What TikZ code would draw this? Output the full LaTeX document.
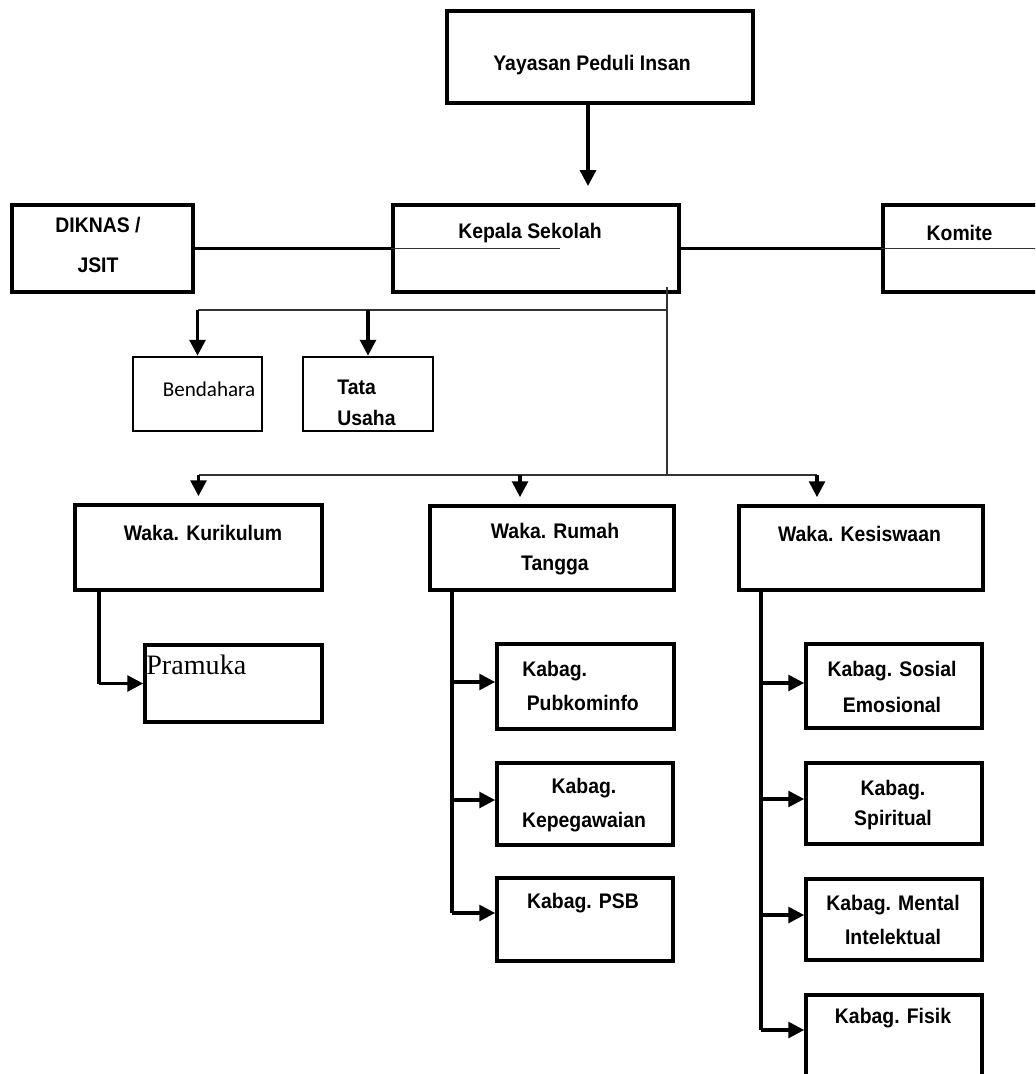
\documentclass[tikz,border=0pt]{standalone}
\usepackage{fontspec}
\newfontfamily\narrowfont{Liberation Sans}[FakeStretch=0.92]
\newfontfamily\carlitofont{Carlito}
\newfontfamily\seriffont{Liberation Serif}
\usetikzlibrary{arrows.meta,positioning}

\begin{document}
\begin{tikzpicture}
		[x=0.02cm, y=-0.02cm,
		boxsty/.style 2 args={draw, line width=2.1pt, inner sep=0pt,
			minimum width=#1*0.02cm, minimum height=#2*0.02cm},
		txtsty/.style={font=\narrowfont\bfseries\fontsize{12}{19}\selectfont,
			align=center, inner sep=0pt},
		arrsty/.style={-{Triangle[length=9pt,width=9pt]}, line width=1.8pt},
		brsty/.style={line width=2pt},
		linsty/.style={line width=1pt, black!80}]
		\useasboundingbox (0,0) rectangle (1035,1074);
		\clip (0,0) rectangle (1035,1074);
		
		\node (box yayasan)   at (600,57)    [boxsty={306}{92}] {};
		\node (box kepala)    at (536,248.5) [boxsty={286}{87}] {};
		\node (box diknas)    at (102.5,248.5) [boxsty={181}{87}] {};
		\node (box komite)    at (983,248.5) [boxsty={200}{87}] {};
		\node (box bendahara) at (197.5,394) [boxsty={129}{74}, line width=1.5pt] {};
		\node (box tatausaha) at (368,394)   [boxsty={130}{74}, line width=1.5pt] {};
		\node (box kurikulum) at (198.5,547.5) [boxsty={247}{85}] {};
		\node (box rumah)     at (552,548)   [boxsty={244}{84}] {};
		\node (box kesiswaan) at (861,548)   [boxsty={244}{84}] {};
		\node (box pramuka)   at (233.5,683.5) [boxsty={177}{77}] {};
		\node (box pubkominfo)  at (585.5,686.5) [boxsty={177}{85}] {};
		\node (box kepegawaian) at (585,804)   [boxsty={176}{82}] {};
		\node (box psb)         at (585,919.5) [boxsty={176}{83}] {};
		\node (box sosial)    at (894,686)    [boxsty={176}{84}] {};
		\node (box spiritual) at (894,803.5)  [boxsty={176}{81}] {};
		\node (box mental)    at (894,919.5)  [boxsty={176}{81}] {};
		\node (box fisik)     at (894,1050)   [boxsty={176}{110}] {};
		
		\node (text yayasan)   at (592,65)   [txtsty] {Yayasan Peduli Insan};
		\node (text kepala)    at (530,233)  [txtsty] {Kepala Sekolah};
		\node (text diknas)    at (98,245)   [txtsty, font=\narrowfont\bfseries\fontsize{12}{23}\selectfont] {DIKNAS /\\JSIT};
		\node (text komite)    at (959.5,233) [txtsty] {Komite};
		\node (text bendahara) at (209,389)  [inner sep=0pt, font=\carlitofont\fontsize{12}{14}\selectfont] {Bendahara};
		\node (text tatausaha) at (337,402.5) [txtsty, anchor=west, align=left, font=\narrowfont\bfseries\fontsize{12}{17.6}\selectfont] {Tata\\Usaha};
		\node (text kurikulum) at (203,533)  [txtsty] {Waka. Kurikulum};
		\node (text rumah)     at (555,549)  [txtsty, font=\narrowfont\bfseries\fontsize{12}{18}\selectfont] {Waka. Rumah\\Tangga};
		\node (text kesiswaan) at (859.5,534) [txtsty] {Waka. Kesiswaan};
		\node (text pramuka)   at (146,674)  [anchor=base west, inner sep=0pt, font=\seriffont\fontsize{16}{18}\selectfont] {Pramuka};
		\node (text pubkominfo)  at (522,686) [txtsty, anchor=west, align=left, font=\narrowfont\bfseries\fontsize{12}{19.8}\selectfont] {Kabag.\\\hspace*{2.5pt}Pubkominfo};
		\node (text kepegawaian) at (584,805) [txtsty] {Kabag.\\Kepegawaian};
		\node (text psb)         at (583,903) [txtsty] {Kabag. PSB};
		\node (text sosial)    at (892,686.5) [txtsty, font=\narrowfont\bfseries\fontsize{12}{20.5}\selectfont] {Kabag. Sosial\\Emosional};
		\node (text spiritual) at (893,805)   [txtsty, font=\narrowfont\bfseries\fontsize{12}{17}\selectfont] {Kabag.\\Spiritual};
		\node (text mental)    at (893,920)   [txtsty] {Kabag. Mental\\Intelektual};
		\node (text fisik)     at (893,1018)  [txtsty] {Kabag. Fisik};
		
		\coordinate (top arrow) at (588,186);
		\coordinate (ks a) at (667,287);
		\coordinate (ks b) at (667,310);
		\coordinate (ks c) at (667,475);
		\coordinate (waka rt) at (520,475);
		\coordinate (waka ks) at (817,475);
		\coordinate (kur a) at (99,590);
		\coordinate (rt a) at (452,590);
		\coordinate (rt b) at (452,913);
		\coordinate (sis a) at (761,590);
		\coordinate (sis b) at (761,1030);
		
		\draw[arrsty] (box yayasan.south -| top arrow) -- (top arrow);
		\draw[line width=1.6pt] (box diknas) -- (box kepala);
		\draw[line width=1.6pt] (box kepala) -- (box komite);
		\draw[linsty] (box kepala.west) -- ++(169,0);
		\draw[linsty] (box komite.west) -- ++(160,0);
		
		\draw[linsty] (ks a) -- (ks c);
		\draw[linsty] (ks b) -- (ks b -| box bendahara.north);
		\draw[arrsty] (ks b -| box bendahara.north) -- (box bendahara);
		\draw[arrsty] (ks b -| box tatausaha.north) -- (box tatausaha);
		
		\draw[linsty] (ks c -| box kurikulum.north) -- (waka ks);
		\draw[arrsty, shorten >=0.14cm] (ks c -| box kurikulum.north) -- (box kurikulum);
		\draw[arrsty, shorten >=0.14cm] (waka rt) -- (waka rt |- box rumah.north);
		\draw[arrsty, shorten >=0.14cm] (waka ks) -- (waka ks |- box kesiswaan.north);
		
		\draw[brsty] (kur a) -- (kur a |- box pramuka);
		\draw[arrsty] (kur a |- box pramuka) -- (box pramuka);
		
		\draw[brsty] (rt a) -- (rt b);
		\foreach \yy/\nm in {682/pubkominfo, 800/kepegawaian, 913/psb}{
			\coordinate (tip) at (452,\yy);
			\draw[arrsty] (tip) -- (tip -| box \nm.west);
		}
		
		\draw[brsty] (sis a) -- (sis b);
		\foreach \yy/\nm in {683/sosial, 799/spiritual, 915/mental, 1030/fisik}{
			\coordinate (tip) at (761,\yy);
			\draw[arrsty] (tip) -- (tip -| box \nm.west);
		}
	\end{tikzpicture}
\end{document}
